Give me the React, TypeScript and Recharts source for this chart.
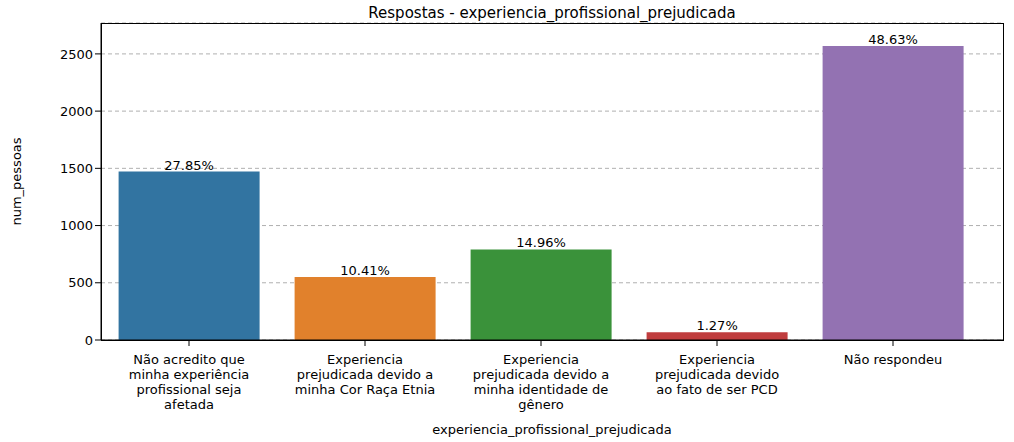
import { BarChart, Bar, XAxis, YAxis, CartesianGrid, Cell, LabelList } from "recharts";

const categories = [
  "Não acredito que\nminha experiência\nprofissional seja\nafetada",
  "Experiencia\nprejudicada devido a\nminha Cor Raça Etnia",
  "Experiencia\nprejudicada devido a\nminha identidade de\ngênero",
  "Experiencia\nprejudicada devido\nao fato de ser PCD",
  "Não respondeu",
];
const counts = [1472, 550, 791, 67, 2570];
const percents = ["27.85%", "10.41%", "14.96%", "1.27%", "48.63%"];
const colors = ["#3274a1", "#e1812c", "#3a923a", "#c03d3e", "#9372b2"];
const yTicks = [0, 500, 1000, 1500, 2000, 2500];

const data = categories.map((c, i) => ({ cat: c, value: counts[i], pct: percents[i] }));
const FONT = "DejaVu Sans, sans-serif";

function MultiTick(props: { x?: number; y?: number; payload?: { value: string } }) {
  const { x = 0, y = 0, payload } = props;
  const lines = (payload?.value ?? "").split("\n");
  return (
    <g transform={`translate(${x},${y})`}>
      {lines.map((l, i) => (
        <text key={i} x={0} y={0} dy={16 + i * 15} textAnchor="middle" fill="#000" fontSize={13} fontFamily={FONT}>
          {l}
        </text>
      ))}
    </g>
  );
}

export default function App() {
  return (
    <div style={{ position: "absolute", left: 0, top: 0, width: 1014, height: 442, background: "#fff" }}>
      <div style={{ position: "absolute", top: 4, width: 1014, left: 45, textAlign: "center", fontFamily: FONT, fontSize: 15 }}>
        Respostas - experiencia_profissional_prejudicada
      </div>
      <BarChart
        width={1014}
        height={442}
        data={data}
        margin={{ top: 23, right: 11, left: 0, bottom: 0 }}
        barCategoryGap="10%"
      >
        <CartesianGrid stroke="#b0b0b0" strokeDasharray="4 3" vertical={false} />
        <XAxis
          dataKey="cat"
          height={102}
          padding={{ left: 0, right: 22 }}
          tick={MultiTick as never}
          tickLine={{ stroke: "#000" }}
          axisLine={{ stroke: "#000" }}
          interval={0}
          label={{ value: "experiencia_profissional_prejudicada", position: "insideBottom", offset: 8, fill: "#000", fontSize: 13, fontFamily: FONT }}
        />
        <YAxis
          width={101}
          domain={[0, 2770]}
          ticks={yTicks}
          tick={{ fill: "#000", fontSize: 13, fontFamily: FONT }}
          tickLine={{ stroke: "#000" }}
          axisLine={{ stroke: "#000" }}
          label={{ value: "num_pessoas", angle: -90, position: "insideLeft", offset: 16, fill: "#000", fontSize: 13, fontFamily: FONT, style: { textAnchor: "middle" } }}
        />
        <Bar dataKey="value" isAnimationActive={false}>
          {data.map((d, i) => (
            <Cell key={i} fill={colors[i]} />
          ))}
          <LabelList dataKey="pct" position="top" offset={2} fill="#000" fontSize={13} fontFamily={FONT} />
        </Bar>
      </BarChart>
      <div style={{ position: "absolute", left: 101, top: 23, width: 903, height: 318, border: "1px solid #000", boxSizing: "border-box", pointerEvents: "none" }} />
    </div>
  );
}
